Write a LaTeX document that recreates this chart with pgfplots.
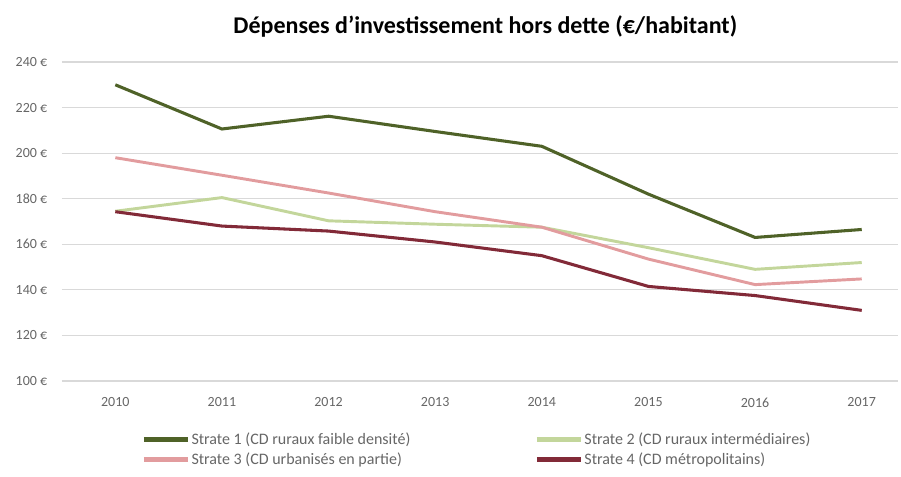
\documentclass[border=0pt]{standalone}
\usepackage{fontspec}
\setmainfont{Carlito}
\usepackage{pgfplots}
\pgfplotsset{compat=1.18}
\definecolor{strA}{HTML}{4F6228}
\definecolor{strB}{HTML}{C3D69B}
\definecolor{strC}{HTML}{E29C9E}
\definecolor{strD}{HTML}{822A38}
\definecolor{tickGray}{HTML}{666666}
\definecolor{gridGray}{HTML}{D9D9D9}

\begin{document}
\begin{tikzpicture}
% frame of the whole picture: 901x476 px at 0.75pt per px
\useasboundingbox (-46.5pt,-71.25pt) rectangle (629.25pt,285.75pt);
\begin{axis}[
    scale only axis,
    width=627pt, height=239.25pt,
    xmin=2009.5, xmax=2017.34,
    ymin=100, ymax=240,
    xtick={2010,...,2017},
    ytick={100,120,...,240},
    yticklabel={\pgfmathprintnumber{\tick}~€},
    x tick label style={/pgf/number format/1000 sep={}},
    /pgf/number format/assume math mode=true,
    tick label style={font=\fontsize{10.5}{12}\selectfont, color=tickGray},
    major tick length=0pt,
    ymajorgrids=true,
    grid style={draw=gridGray, line width=0.8pt},
    axis line style={draw=none},
    axis x line*=bottom,
    axis y line*=left,
    xticklabel style={yshift=-9pt},
    yticklabel style={xshift=-7.5pt},
    title={\bfseries Dépenses d'investissement hors dette (€/habitant)},
    title style={font=\fontsize{18}{21}\selectfont, at={(0.5,1)}, anchor=center, yshift=20.5pt, xshift=4pt},
    legend columns=2,
    legend cell align=left,
    legend style={at={(0.09,-0.148)}, anchor=north west, draw=none, fill=none,
        font=\fontsize{12}{14}\selectfont\color{tickGray},
        nodes={inner sep=1pt},
        /tikz/every even column/.append style={column sep=92pt},
        row sep=3pt},
    legend image code/.code={\draw[#1, line width=3.5pt] (0pt,0pt) -- (33pt,0pt);},
]
\addplot[strA, line width=2.3pt] coordinates {
    (2010,230) (2011,210.6) (2012,216.2) (2013,209.5) (2014,203) (2015,182) (2016,163) (2017,166.5)
};
\addlegendentry{Strate 1 (CD ruraux faible densité)}
\addplot[strB, line width=2.2pt] coordinates {
    (2010,174.5) (2011,180.5) (2012,170.3) (2013,168.8) (2014,167.5) (2015,158.5) (2016,149) (2017,152)
};
\addlegendentry{Strate 2 (CD ruraux intermédiaires)}
\addplot[strC, line width=2.2pt] coordinates {
    (2010,198) (2011,190.3) (2012,182.5) (2013,174.3) (2014,167.5) (2015,153.5) (2016,142.3) (2017,144.8)
};
\addlegendentry{Strate 3 (CD urbanisés en partie)}
\addplot[strD, line width=2.3pt] coordinates {
    (2010,174.3) (2011,168) (2012,165.8) (2013,161) (2014,155) (2015,141.5) (2016,137.5) (2017,131)
};
\addlegendentry{Strate 4 (CD métropolitains)}
\end{axis}
\end{tikzpicture}
\end{document}
